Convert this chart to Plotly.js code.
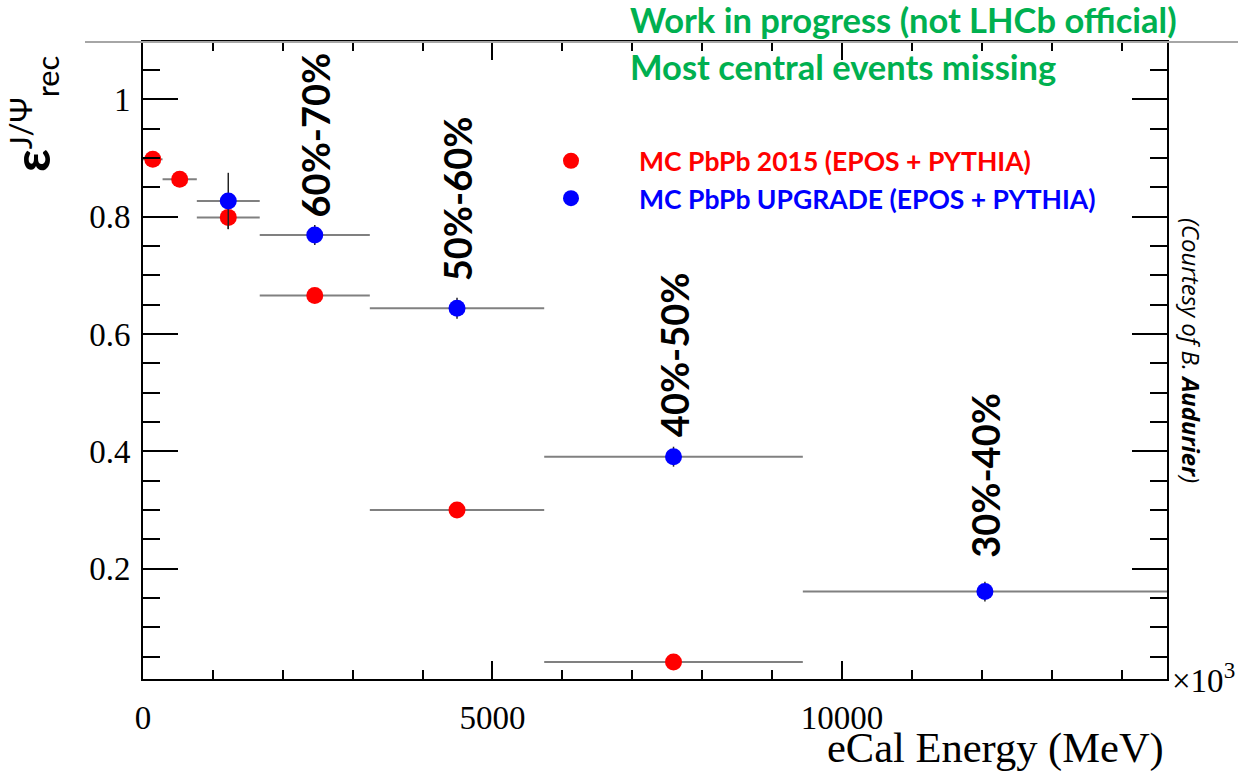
<!DOCTYPE html>
<html>
<head>
<meta charset="utf-8">
<script src="https://cdn.plot.ly/plotly-3.0.1.min.js"></script>
<style>html,body{margin:0;padding:0;background:#fff;}#plot{width:1238px;height:773px;}</style>
</head>
<body>
<div id="plot"></div>
<script>
// ---- data ----
const binLow  = [0, 280, 770, 1670, 3245, 5740, 9440];          // MeV
const binHigh = [280, 770, 1670, 3245, 5740, 9440, 14650];      // MeV
const effPbPb2015    = [0.898, 0.864, 0.799, 0.666, 0.300, 0.041, null];
const errPbPb2015    = [0.006, 0.006, 0.020, 0.008, 0.008, 0.006, null];
const effUpgrade     = [null, null, 0.827, 0.769, 0.644, 0.391, 0.161];
const errUpgrade     = [null, null, 0.048, 0.017, 0.018, 0.017, 0.017];
const centralityLabels = [null, null, null, "60%-70%", "50%-60%", "40%-50%", "30%-40%"];
const labelY           = [null, null, null, 0.94, 0.83, 0.565, 0.36];
const seriesNames = ["MC PbPb 2015 (EPOS + PYTHIA)", "MC PbPb UPGRADE (EPOS + PYTHIA)"];
const xTickVals = [0, 5000, 10000];
const xTickText = ["0", "5000", "10000"];

// ---- derived ----
const binCenter = binLow.map((lo, i) => (lo + binHigh[i]) / 2);
const errPlus  = binHigh.map((hi, i) => hi - binCenter[i]);
const errMinus = binLow.map((lo, i) => binCenter[i] - lo);

function series(eff, err, color, name) {
  return {
    type: 'scatter', mode: 'markers', name: name,
    x: binCenter, y: eff, cliponaxis: false,
    marker: {color: color, size: 17},
    error_x: {type: 'data', symmetric: false, array: errPlus, arrayminus: errMinus,
              color: '#808080', thickness: 2, width: 0},
    error_y: {type: 'data', array: err, color: '#222', thickness: 1.5, width: 0}
  };
}
const traces = [
  series(effPbPb2015, errPbPb2015, '#ff0000',
    '<b><span style="color:#ff0000">' + seriesNames[0] + '</span></b>'),
  series(effUpgrade, errUpgrade, '#0000ff',
    '<b><span style="color:#0000ff">' + seriesNames[1] + '</span></b>')
];

// plot area in pixels: x 143..1167, y 42..679
const L = 143, R = 1167, T = 42, B = 679;
const PX = px => (px - L) / (R - L);
const PY = py => (B - py) / (B - T);

const annotations = [];
centralityLabels.forEach((t, i) => {
  if (!t) return;
  annotations.push({xref: 'x', yref: 'y', x: binCenter[i], y: labelY[i], text: '<b>' + t + '</b>',
    textangle: -90, showarrow: false, xanchor: 'center', yanchor: 'middle',
    font: {family: 'Lato, sans-serif', size: 38, color: '#000'}});
});
annotations.push(
  {xref: 'paper', yref: 'paper', x: PX(628), y: PY(20), xanchor: 'left', yanchor: 'middle', showarrow: false,
   text: '<b>Work in progress (not LHCb official)</b>', font: {family: 'Lato, sans-serif', size: 34.5, color: '#00b050'}},
  {xref: 'paper', yref: 'paper', x: PX(628), y: PY(66), xanchor: 'left', yanchor: 'middle', showarrow: false,
   text: '<b>Most central events missing</b>', font: {family: 'Lato, sans-serif', size: 34.5, color: '#00b050'}},
  {xref: 'paper', yref: 'paper', x: PX(1166), y: PY(748), xanchor: 'right', yanchor: 'middle', showarrow: false,
   text: 'eCal Energy (MeV)', font: {family: 'Liberation Serif, serif', size: 42.5, color: '#000'}},
  {xref: 'paper', yref: 'paper', x: PX(1170), y: PY(678), xanchor: 'left', yanchor: 'middle', showarrow: false,
   text: '×10<sup>3</sup>', font: {family: 'Liberation Serif, serif', size: 33, color: '#000'}},
  {xref: 'paper', yref: 'paper', x: PX(34), y: PY(114), xanchor: 'center', yanchor: 'middle', showarrow: false,
   textangle: -90, text: '<b><span style="font-size:50px">ε</span></b><sup>J/Ψ</sup><sub>rec</sub>',
   font: {family: 'Lato, sans-serif', size: 44, color: '#000'}},
  {xref: 'paper', yref: 'paper', x: PX(1191), y: PY(350), xanchor: 'center', yanchor: 'middle', showarrow: false,
   textangle: 90, text: '<i>(Courtesy of B. <b>Audurier</b>)</i>', font: {family: 'Open Sans, sans-serif', size: 24, color: '#000'}}
);

const layout = {
  width: 1238, height: 773,
  margin: {l: L, r: 1238 - R, t: T, b: 773 - B, pad: 0},
  paper_bgcolor: '#fff', plot_bgcolor: '#fff',
  showlegend: true,
  legend: {x: PX(503), y: PY(137), xanchor: 'left', yanchor: 'top', bgcolor: 'rgba(0,0,0,0)',
           font: {family: 'Lato, sans-serif', size: 26.5}, itemwidth: 126, tracegroupgap: 0},
  xaxis: {range: [0, 14650], tickmode: 'array', tickvals: xTickVals, ticktext: xTickText,
          ticks: 'inside', ticklen: 18, tickwidth: 2, tickcolor: '#000',
          minor: {tickmode: 'linear', tick0: 0, dtick: 1000, ticks: 'inside', ticklen: 9, tickwidth: 2, tickcolor: '#000'},
          showline: true, linewidth: 2, linecolor: '#000', mirror: 'allticks',
          showgrid: false, zeroline: false, ticklabelstandoff: 8,
          tickfont: {family: 'Liberation Serif, serif', size: 33, color: '#000'}},
  yaxis: {range: [0.012, 1.098], tickmode: 'linear', tick0: 0, dtick: 0.2,
          ticks: 'inside', ticklen: 35, tickwidth: 2, tickcolor: '#000',
          minor: {tickmode: 'linear', tick0: 0, dtick: 0.05, ticks: 'inside', ticklen: 17, tickwidth: 2, tickcolor: '#000'},
          showline: true, linewidth: 2, linecolor: '#000', mirror: 'allticks',
          showgrid: false, zeroline: false, ticklabelstandoff: 4,
          tickfont: {family: 'Liberation Serif, serif', size: 33, color: '#000'}},
  shapes: [{type: 'line', xref: 'paper', yref: 'paper', x0: PX(85), x1: PX(1238), y0: 1, y1: 1,
            line: {color: '#a6a6a6', width: 2}, layer: 'above'}],
  annotations: annotations
};

Plotly.newPlot('plot', traces, layout, {staticPlot: true});
</script>
</body>
</html>
